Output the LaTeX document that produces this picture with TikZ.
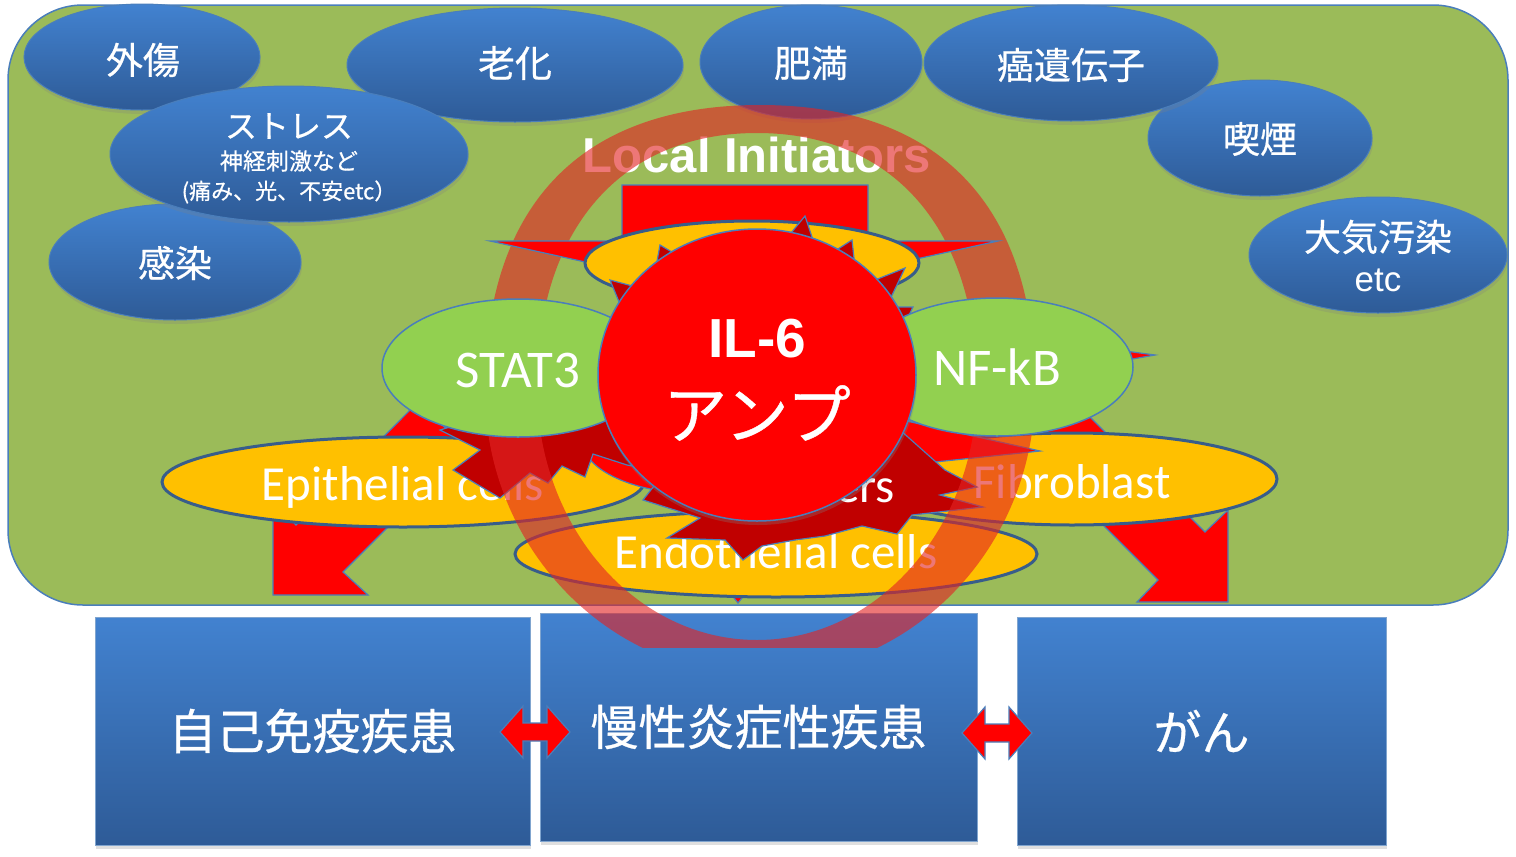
\documentclass[tikz,border=0pt]{standalone}
\usepackage{fontspec}
\usetikzlibrary{shapes.geometric,shadows,calc}
\newfontfamily\jpfont[FakeBold=0.6]{Noto Sans CJK JP}
\newfontfamily\calfont{Carlito}
\newfontfamily\arfont{Liberation Sans}
\definecolor{bggreen}{RGB}{155,187,89}
\definecolor{edgeblue}{RGB}{74,126,187}
\definecolor{darkedge}{RGB}{56,93,138}
\definecolor{bluetop}{RGB}{66,130,208}
\definecolor{bluebot}{RGB}{46,91,151}
\definecolor{leafgreen}{RGB}{146,208,80}
\definecolor{gold}{RGB}{255,192,0}
\definecolor{pured}{RGB}{255,0,0}
\definecolor{darkred}{RGB}{192,0,0}
\definecolor{ringred}{RGB}{226,36,36}
\tikzset{
  softshadow/.style={drop shadow={opacity=0.25, shadow xshift=1pt, shadow yshift=-4pt}},
  blueell/.style={ellipse, inner sep=0pt, top color=bluetop, bottom color=bluebot, draw=edgeblue, line width=1pt, softshadow},
  jptext/.style={text=white, font=\jpfont\fontsize{37}{44}\selectfont, inner sep=0pt},
  dbox/.style={rectangle, inner sep=0pt, top color=bluetop, bottom color=bluebot, draw=edgeblue!70!white, line width=1pt, text=white, font=\jpfont\fontsize{48}{56}\selectfont, softshadow},
  bgbox/.style={rectangle, inner sep=0pt, fill=bggreen, draw=edgeblue, line width=1.5pt, rounded corners=75pt},
  yellell/.style={ellipse, inner sep=0pt, fill=gold, draw=darkedge, line width=3pt},
  greenell/.style={ellipse, inner sep=0pt, fill=leafgreen, draw=edgeblue, line width=1.5pt},
  ilell/.style={ellipse, inner sep=0pt, fill=pured, draw=edgeblue, line width=1.5pt, drop shadow={opacity=0.3, shadow xshift=1pt, shadow yshift=-4pt}},
  redell/.style={ellipse, inner sep=0pt, fill=pured, draw=edgeblue, line width=1.2pt},
  redshape/.style={fill=pured, draw=edgeblue, line width=1.2pt},
  burst/.style={fill=darkred, draw=edgeblue, line width=1.2pt},
  celltext/.style={text=white, font=\calfont\fontsize{49}{56}\selectfont, inner sep=0pt},
  keytext/.style={text=white, font=\calfont\fontsize{53}{60}\selectfont, inner sep=0pt},
}
\begin{document}
\begin{tikzpicture}[x=1pt,y=-1pt]
\useasboundingbox (0,0) rectangle (1516,857);

% bottom boxes
\node[dbox, minimum width=435pt, minimum height=228pt] (b1) at (312.5,731) {自己免疫疾患};
\node[dbox, minimum width=437pt, minimum height=228pt] (b2) at (758.5,727) {慢性炎症性疾患};
\node[dbox, minimum width=369pt, minimum height=228pt] (b3) at (1201.5,731) {がん};

% green background
\node[bgbox, minimum width=1500pt, minimum height=600pt] (bg) at (758,305) {};

% initiators
\node[blueell, minimum width=236pt, minimum height=106pt] (gaisho) at (142,57) {};
\node[jptext] (tgaisho) at (143,60) {外傷};
\node[blueell, minimum width=252pt, minimum height=116pt] (kansen) at (175,262) {};
\node[jptext] (tkansen) at (175,263) {感染};
\node[blueell, minimum width=336pt, minimum height=114pt] (roka) at (515,65) {};
\node[jptext] (troka) at (515,63) {老化};
\node[blueell, minimum width=222pt, minimum height=114pt] (himan) at (811,62) {};
\node[jptext] (thiman) at (811,63) {肥満};
\node[blueell, minimum width=224pt, minimum height=116pt] (kitsuen) at (1260,138) {};
\node[jptext] (tkitsuen) at (1260,139) {喫煙};
\node[blueell, minimum width=294pt, minimum height=116pt] (gan) at (1071,63) {};
\node[jptext] (tgan) at (1071,65) {癌遺伝子};
\node[blueell, minimum width=258pt, minimum height=116pt] (taiki) at (1378,255) {};
\node[jptext] (ttaiki) at (1378,237) {大気汚染};
\node[text=white, font=\arfont\fontsize{35}{40}\selectfont, inner sep=0pt] (tetc) at (1378,280) {etc};
\node[blueell, minimum width=358pt, minimum height=136pt] (stress) at (289,154) {};
\node[text=white, font=\jpfont\fontsize{32}{36}\selectfont, inner sep=0pt] (ts1) at (289,126) {ストレス};
\node[text=white, font=\jpfont\fontsize{23}{26}\selectfont, inner sep=0pt] (ts2) at (289,161) {神経刺激など};
\node[text=white, font=\jpfont\fontsize{22}{26}\selectfont, inner sep=0pt] (ts3) at (289,192) {(痛み、光、不安etc）};

\node[text=white, font=\arfont\bfseries\fontsize{49}{56}\selectfont, anchor=base, inner sep=0pt] (li) at (757,172) {Local Initiators};

% outgoing arrows
\filldraw[redshape] (273,595) -- (368,595) -- (343,572) -- (466,449) -- (419,401) -- (296,525) -- (273,500) -- cycle;
\filldraw[redshape] (1228,602) -- (1228,510) -- (1205,532) -- (1075,402) -- (1028,450) -- (1158,580) -- (1137,602) -- cycle;
\filldraw[redshape] (712,570) -- (764,570) -- (738,603) -- cycle;

% cell types
\node[yellell, minimum width=482pt, minimum height=90pt] (epi) at (403,482) {};
\node[celltext, anchor=base] (tepi) at (403,500) {Epithelial cells};
\node[yellell, minimum width=522pt, minimum height=86pt] (endo) at (776,554) {};
\node[celltext, anchor=base] (tendo) at (776,568) {Endothelial cells};
\node[yellell, minimum width=410pt, minimum height=92pt] (fib) at (1072,479) {};
\node[celltext, anchor=base] (tfib) at (1072,498) {Fibroblast};

% red shapes behind the amplifier
\node[redell, minimum width=236pt, minimum height=108pt] (red2) at (700,440) {};
\filldraw[redshape] (880,415) -- (1040,451) -- (935,462) -- (905,472) -- cycle;
\filldraw[burst] (640,330) -- (500,412) -- (440,430) -- (480,450) -- (453,470) -- (500,498)
  -- (530,473) -- (548,483) -- (562,466) -- (585,477) -- (593,454) -- (627,465)
  -- (665,472) -- (643,500) -- (700,518) -- (667,538) -- (725,540) -- (743,560)
  -- (762,546) -- (795,540) -- (825,536) -- (862,526) -- (897,534) -- (912,515)
  -- (983,507) -- (940,495) -- (977,487) -- (945,470) -- (900,430) -- (880,330) -- cycle;
\node[celltext, anchor=base west] (ers) at (835,502) {ers};

% translucent ring
\begin{scope}
\clip (0,0) rectangle (1516,647);
\fill[ringred, fill opacity=0.62, even odd rule]
  (760,105) .. controls (938.75,105) and (1035,204.75) .. (1035,390)
  .. controls (1035,547.4) and (911.9,675) .. (760,675)
  .. controls (608.1,675) and (485,547.4) .. (485,390)
  .. controls (485,204.75) and (581.25,105) .. (760,105) -- cycle
  (757,133) .. controls (893.4,133) and (977,229.5) .. (977,387)
  .. controls (977,526.7) and (878.5,640) .. (757,640)
  .. controls (635.5,640) and (537,526.7) .. (537,387)
  .. controls (537,229.5) and (620.6,133) .. (757,133) -- cycle;
\end{scope}

% big incoming arrow
\filldraw[redshape] (622,185) -- (868,185) -- (868,241) -- (998,241) -- (744,297) -- (490,241) -- (622,241) -- cycle;
\node[yellell, minimum width=334pt, minimum height=84pt] (topell) at (752,263) {};

% spikes around IL-6
\coordinate (ilc) at (757,375);
\foreach \a/\tx/\ty in {-73/805/216, -127/660/245, -55/852/240, -36/905/268, -147/610/280, -23.5/913/307} {
  \filldraw[burst] ($(ilc)+(\a-6:150 and 138)$) -- (\tx,\ty) -- ($(ilc)+(\a+6:150 and 138)$) -- cycle;
}
\filldraw[redshape] (1110,349) -- (1155,355) -- (1110,363) -- cycle;

% transcription factors
\node[greenell, minimum width=272pt, minimum height=138pt] (stat) at (518,368) {};
\node[keytext, anchor=base] (tstat) at (518,387) {STAT3};
\node[greenell, minimum width=272pt, minimum height=138pt] (nfkb) at (997,367) {};
\node[keytext, anchor=base] (tnfkb) at (997,385) {NF-kB};

% IL-6 amplifier
\node[ilell, minimum width=318pt, minimum height=292pt] (il6) at (ilc) {};
\node[text=white, font=\arfont\bfseries\fontsize{55}{60}\selectfont, anchor=base, inner sep=0pt] (til6) at (757,357) {IL-6};
\node[text=white, font=\jpfont\fontsize{64}{70}\selectfont, inner sep=0pt] (tamp) at (757,413) {アンプ};

% double arrows between diseases
\coordinate (m1) at ($(b1.east)!0.5!(b2.west)+(0,3)$);
\coordinate (m2) at ($(b2.east)!0.5!(b3.west)+(0,4)$);
\foreach \m in {m1,m2} {
  \filldraw[redshape, shift={(\m)}] (-35,0) -- (-12,-26) -- (-12,-9) -- (12,-9) -- (12,-26) -- (35,0)
    -- (12,26) -- (12,9) -- (-12,9) -- (-12,26) -- cycle;
}
\end{tikzpicture}
\end{document}
